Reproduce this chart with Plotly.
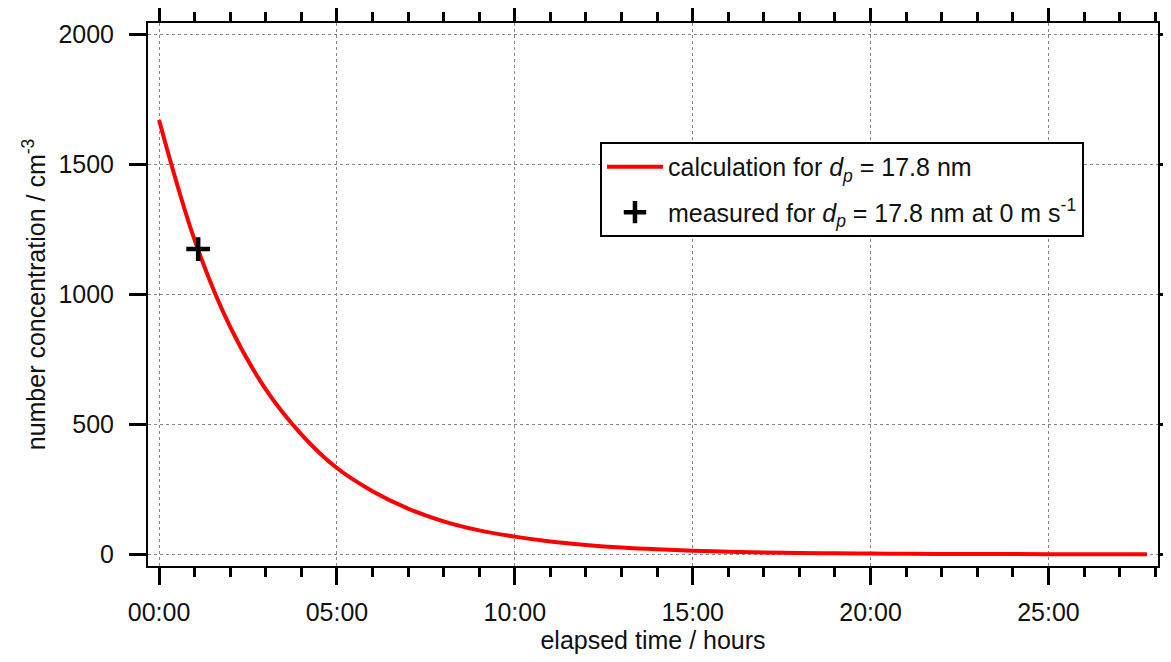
import plotly.graph_objects as go

# calculated curve (hours, cm^-3)
calc_t = [0, 1, 2, 3, 4, 5, 6, 7, 8, 9, 10, 11, 12, 13, 14, 15, 16, 17, 18,
          19, 20, 21, 22, 23, 24, 25, 26, 27, 27.77]
calc_n = [1672, 1210, 875, 635, 462, 332, 243, 176, 127, 92, 68, 49, 36, 26,
          19, 14, 10, 7, 5, 4, 3, 2, 1.5, 1, 0.8, 0.5, 0.4, 0.3, 0.2]

# measured point
meas_t = [1.1]
meas_n = [1175]

x_tickvals = [0, 5, 10, 15, 20, 25]
x_ticktext = ["00:00", "05:00", "10:00", "15:00", "20:00", "25:00"]
y_tickvals = [0, 500, 1000, 1500, 2000]

FONT = "Liberation Sans, Arial, sans-serif"
FS = 25

fig = go.Figure()
fig.add_trace(go.Scatter(
    x=calc_t, y=calc_n, mode="lines", line=dict(color="#ff0000", width=4, shape="spline"),
    name="calculation for <i>d<sub>p</sub></i> = 17.8 nm", legendgroup="a"))
fig.add_trace(go.Scatter(
    x=meas_t, y=meas_n, mode="markers",
    marker=dict(symbol="cross-thin", size=17, line=dict(color="black", width=4.5), color="black"),
    name="measured for <i>d<sub>p</sub></i> = 17.8 nm at 0 m s<sup>-1</sup>", legendgroup="b"))

axis_common = dict(
    showline=True, linecolor="black", linewidth=2, mirror="allticks",
    ticks="outside", tickcolor="black", tickwidth=2.5, ticklen=17,
    showgrid=True, gridcolor="#888888", griddash="dot", gridwidth=1,
    zeroline=False, tickfont=dict(family=FONT, size=FS, color="#111111"),
)

fig.update_xaxes(
    **axis_common, range=[-0.31, 28.08], tickmode="array",
    tickvals=x_tickvals, ticktext=x_ticktext, ticklabelstandoff=6,
    minor=dict(tickmode="linear", tick0=0, dtick=1, ticklen=9, tickwidth=2.5,
               tickcolor="black", ticks="outside", showgrid=False),
    title=dict(text="elapsed time / hours", font=dict(family=FONT, size=FS, color="#111111"),
               standoff=6),
)
fig.update_yaxes(
    **axis_common, range=[-45, 2045], tickmode="array", tickvals=y_tickvals,
    ticklabelstandoff=10,
    title=dict(text="number concentration / cm<sup>-3</sup>",
               font=dict(family=FONT, size=FS, color="#111111"), standoff=6),
)

# the page body adds an 8 px offset, margins compensate for it
fig.update_layout(
    width=1171, height=662,
    margin=dict(l=140, r=21, t=15, b=104, autoexpand=False),
    plot_bgcolor="white", paper_bgcolor="white",
    showlegend=True,
    legend=dict(x=0.4475, y=0.781, xanchor="left", yanchor="top",
                bgcolor="white", bordercolor="black", borderwidth=2,
                font=dict(family=FONT, size=FS, color="#111111"),
                itemwidth=56, tracegroupgap=10, traceorder="grouped"),
)

fig.write_html("out.html")
